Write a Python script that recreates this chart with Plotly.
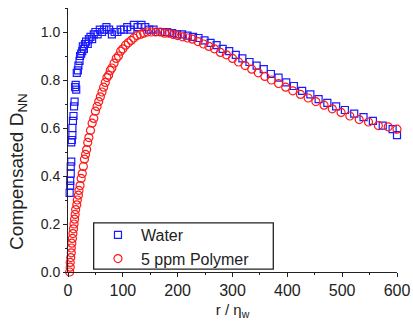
import plotly.graph_objects as go

water_r = [3, 4, 4, 5, 5, 6, 6, 7, 8, 8, 9, 10, 11, 12, 13, 14, 15, 16, 18, 19, 21, 22, 24, 26, 27, 29, 31, 33, 36, 38, 41, 44, 47, 50, 54, 58, 62, 66, 70, 75, 80, 85, 90, 96, 102, 108, 114, 120, 127, 134, 141, 148, 156, 164, 172, 181, 190, 199, 208, 218, 228, 238, 249, 260, 271, 282, 294, 306, 318, 331, 344, 357, 370, 384, 398, 412, 427, 442, 457, 473, 489, 505, 522, 539, 556, 574, 592, 600]
water_d = [0.33, 0.36, 0.38, 0.41, 0.44, 0.46, 0.54, 0.55, 0.57, 0.60, 0.63, 0.65, 0.69, 0.71, 0.77, 0.78, 0.76, 0.83, 0.84, 0.86, 0.88, 0.90, 0.91, 0.92, 0.94, 0.93, 0.95, 0.96, 0.95, 0.97, 0.98, 0.97, 0.99, 1.00, 0.99, 1.01, 1.00, 1.01, 1.02, 1.01, 0.99, 1.00, 1.00, 1.01, 1.01, 1.02, 1.01, 1.03, 1.02, 1.03, 1.02, 1.01, 1.01, 1.00, 1.00, 1.00, 0.995, 0.99, 0.99, 0.985, 0.98, 0.975, 0.965, 0.955, 0.945, 0.93, 0.92, 0.905, 0.89, 0.875, 0.86, 0.845, 0.825, 0.81, 0.79, 0.775, 0.755, 0.74, 0.72, 0.705, 0.69, 0.675, 0.66, 0.645, 0.63, 0.61, 0.595, 0.57]

polymer_r = [3, 4, 4, 5, 6, 6, 7, 8, 9, 10, 11, 12, 13, 14, 16, 17, 19, 20, 22, 24, 26, 28, 30, 32, 34, 36, 38, 41, 44, 47, 50, 53, 56, 59, 62, 65, 68, 71, 74, 77, 80, 84, 88, 92, 96, 100, 105, 110, 115, 120, 126, 132, 138, 145, 152, 160, 168, 176, 184, 192, 200, 209, 218, 227, 237, 247, 257, 267, 278, 289, 300, 311, 323, 335, 347, 359, 371, 384, 397, 410, 424, 438, 452, 467, 482, 498, 514, 531, 548, 566, 584, 600]
polymer_d = [0.0, 0.02, 0.04, 0.06, 0.08, 0.10, 0.12, 0.14, 0.16, 0.18, 0.20, 0.22, 0.24, 0.26, 0.28, 0.30, 0.32, 0.34, 0.36, 0.39, 0.41, 0.44, 0.47, 0.49, 0.51, 0.54, 0.56, 0.59, 0.62, 0.64, 0.67, 0.69, 0.71, 0.73, 0.75, 0.77, 0.79, 0.81, 0.82, 0.84, 0.85, 0.87, 0.89, 0.90, 0.92, 0.93, 0.945, 0.955, 0.965, 0.975, 0.985, 0.99, 0.995, 1.0, 1.0, 1.0, 1.0, 0.995, 0.995, 0.99, 0.985, 0.98, 0.975, 0.97, 0.96, 0.95, 0.94, 0.93, 0.915, 0.905, 0.89, 0.875, 0.86, 0.845, 0.83, 0.815, 0.80, 0.785, 0.77, 0.755, 0.74, 0.725, 0.71, 0.695, 0.68, 0.665, 0.65, 0.635, 0.625, 0.61, 0.605, 0.595]

FONT = "Liberation Sans, Arial, sans-serif"
INK = "#222222"

fig = go.Figure()
fig.add_trace(go.Scatter(
    x=water_r, y=water_d, mode="markers", name="Water", cliponaxis=False,
    marker=dict(symbol="square-open", size=7, color="#1a1aff", line=dict(width=1.2)),
))
fig.add_trace(go.Scatter(
    x=polymer_r, y=polymer_d, mode="markers", name="5 ppm Polymer", cliponaxis=False,
    marker=dict(symbol="circle-open", size=8, color="#ff1a1a", line=dict(width=1.2)),
))

# legend frame
fig.add_shape(type="rect", xref="paper", yref="paper",
              x0=0.078, x1=0.624, y0=0.011, y1=0.186,
              line=dict(color=INK, width=1.3), fillcolor="white", layer="above")

# y-axis title (placed as in the reference, below the axis centre)
fig.add_annotation(text="Compensated D<sub>NN</sub>", xref="paper", yref="paper",
                   x=-0.152, y=0.383, xanchor="center", yanchor="middle",
                   textangle=-90, showarrow=False, font=dict(size=19, color=INK))

fig.update_layout(
    width=413, height=330,
    margin=dict(l=68, r=16, t=8, b=58),
    paper_bgcolor="white", plot_bgcolor="white",
    font=dict(family=FONT, size=14, color=INK),
    showlegend=True,
    legend=dict(x=0.082, y=0.205, xanchor="left", yanchor="top",
                bgcolor="rgba(0,0,0,0)", borderwidth=0, itemwidth=36,
                font=dict(size=16, color=INK), tracegroupgap=0),
    xaxis=dict(range=[0, 600], dtick=100, showline=True, linecolor=INK, linewidth=1,
               ticks="outside", ticklen=4, tickcolor=INK, showgrid=False, zeroline=False,
               automargin=False,
               minor=dict(dtick=50, ticks="outside", ticklen=2, tickcolor=INK),
               title=dict(text="r / η<sub>w</sub>", standoff=6, font=dict(size=15)),
               tickfont=dict(size=16)),
    yaxis=dict(range=[0, 1.1], dtick=0.2, tickformat=".1f", showline=True, linecolor=INK,
               linewidth=1, ticks="outside", ticklen=4, tickcolor=INK, showgrid=False,
               zeroline=False, automargin=False,
               minor=dict(dtick=0.1, ticks="outside", ticklen=2, tickcolor=INK),
               tickfont=dict(size=14)),
)

fig.write_html("out.html", config={"displayModeBar": False},
               post_script="document.body.style.margin='0px';")
